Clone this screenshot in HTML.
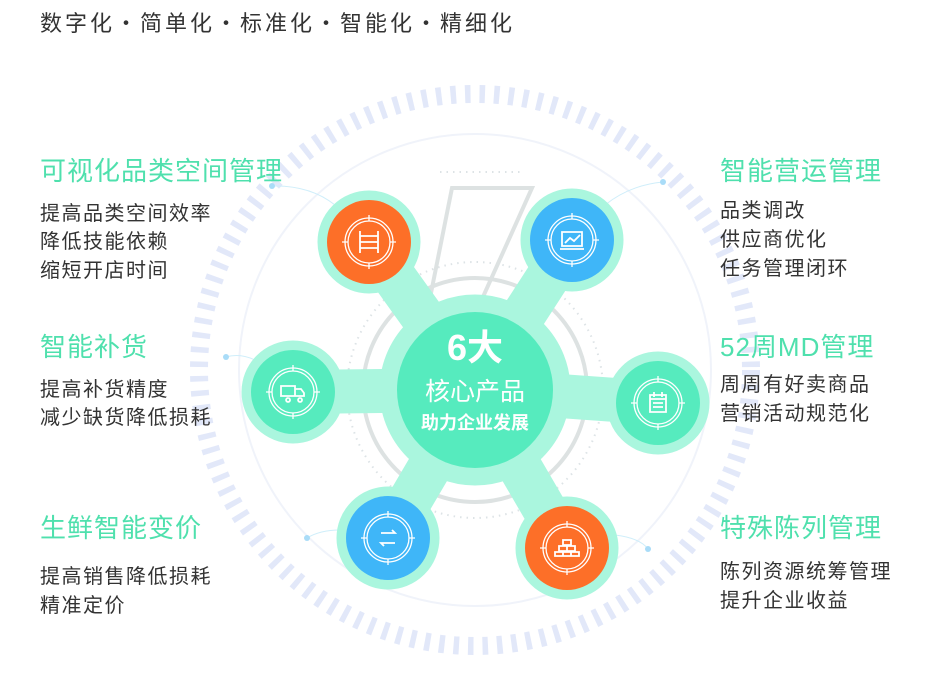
<!DOCTYPE html>
<html><head><meta charset="utf-8"><style>
html,body{margin:0;padding:0;background:#fff;}
svg{display:block;}
text{font-family:"Liberation Sans","Noto Sans CJK SC",sans-serif;}
</style></head><body>
<svg width="928" height="681" viewBox="0 0 928 681" xmlns="http://www.w3.org/2000/svg">
<rect width="928" height="681" fill="#fff"/>
<text x="40" y="31" font-size="22" fill="#333" letter-spacing="3">数字化・简单化・标准化・智能化・精细化</text>

<circle cx="475" cy="370" r="276" fill="none" stroke="#e2e8f9" stroke-width="18" stroke-dasharray="5.5 9"/>
<circle cx="475" cy="370" r="236" fill="none" stroke="#f0f3fa" stroke-width="2"/>
<circle cx="475" cy="390" r="128" fill="none" stroke="#dde3e6" stroke-width="2" stroke-dasharray="1.5 5"/>
<circle cx="475" cy="390" r="112" fill="none" stroke="#dde2e2" stroke-width="4"/>
<path d="M452 188 L532 188 L478 308 L428 308 Z" fill="none" stroke="#dde2e2" stroke-width="4"/>
<path d="M440 172 L520 172" stroke="#dde3e6" stroke-width="2" stroke-dasharray="1.5 5"/>

<g fill="none" stroke="#cfeefa" stroke-width="1">
<path d="M272 186 Q310 185 335 205"/>
<path d="M663 182 Q630 185 605 205"/>
<path d="M226 357 Q240 353 255 360"/>
<path d="M307 538 Q320 530 340 530"/>
<path d="M648 549 Q640 538 615 535"/>
</g>
<g fill="#a9dcf8">
<circle cx="272" cy="186" r="3"/><circle cx="663" cy="182" r="3"/><circle cx="226" cy="357" r="3"/><circle cx="307" cy="538" r="3"/><circle cx="648" cy="549" r="3"/>
</g>

<g fill="#aaf6de" stroke="#aaf6de">
<circle cx="475" cy="390" r="95"/>
<g stroke-width="44" stroke-linecap="round">
<line x1="475" y1="390" x2="369" y2="242"/>
<line x1="475" y1="390" x2="572" y2="240"/>
<line x1="475" y1="390" x2="293" y2="392"/>
<line x1="475" y1="390" x2="658" y2="403"/>
<line x1="475" y1="390" x2="388" y2="538"/>
<line x1="475" y1="390" x2="567" y2="548"/>
</g>
<circle cx="369" cy="242" r="51"/><circle cx="572" cy="240" r="51"/><circle cx="293" cy="392" r="51"/>
<circle cx="658" cy="403" r="51"/><circle cx="388" cy="538" r="51"/><circle cx="567" cy="548" r="51"/>
</g>
<circle cx="475" cy="390" r="78" fill="#56ebbe"/>
<circle cx="369" cy="242" r="42" fill="#fd6f28"/>
<circle cx="572" cy="240" r="42" fill="#3fb6f8"/>
<circle cx="293" cy="392" r="42" fill="#56ebbe"/>
<circle cx="658" cy="403" r="42" fill="#56ebbe"/>
<circle cx="388" cy="538" r="42" fill="#3fb6f8"/>
<circle cx="567" cy="548" r="42" fill="#fd6f28"/>

<g fill="none" stroke="#fff" stroke-width="1.3">
<g><circle cx="369" cy="242" r="24"/><circle cx="369" cy="242" r="21"/><path d="M369 215v6M369 263v6M342 242h6M390 242h6"/></g>
<g><circle cx="572" cy="240" r="24"/><circle cx="572" cy="240" r="21"/><path d="M572 213v6M572 261v6M545 240h6M593 240h6"/></g>
<g><circle cx="293" cy="392" r="24"/><circle cx="293" cy="392" r="21"/><path d="M293 365v6M293 413v6M266 392h6M314 392h6"/></g>
<g><circle cx="658" cy="403" r="24"/><circle cx="658" cy="403" r="21"/><path d="M658 376v6M658 424v6M631 403h6M679 403h6"/></g>
<g><circle cx="388" cy="538" r="24"/><circle cx="388" cy="538" r="21"/><path d="M388 511v6M388 559v6M361 538h6M409 538h6"/></g>
<g><circle cx="567" cy="548" r="24"/><circle cx="567" cy="548" r="21"/><path d="M567 521v6M567 569v6M540 548h6M588 548h6"/></g>
</g>
<g fill="none" stroke="#fff" stroke-width="1.8">
<path d="M360 231v22M378 231v22M360 236h18M360 242h18M360 248h18"/>
<path d="M562 232h20v14h-20zM560 249h24M565 243l5-5 4 3 6-6"/>
<path d="M281 386h14v10h-14zM295 389h6l3 4v3h-9M288 398a2 2 0 1 0 .1 0M300 398a2 2 0 1 0 .1 0"/>
<path d="M650 395h16v17h-16zM650 399h16M653 403h10M653 407h10M654 392v5M662 392v5"/>
<path d="M381 533h14l-3-3M395 543h-14l3 3"/>
<path d="M563 540h8v5h-8zM559 546h8v5h-8zM567 546h8v5h-8zM555 552h8v4h-8zM563 552h8v4h-8zM571 552h8v4h-8z"/>
</g>

<text x="475" y="360" font-size="36" font-weight="bold" fill="#fff" text-anchor="middle">6大</text>
<text x="475" y="400" font-size="25" fill="#fff" text-anchor="middle">核心产品</text>
<text x="475" y="429" font-size="18" font-weight="bold" fill="#fff" text-anchor="middle">助力企业发展</text>

<g font-size="26" fill="#4fe0ad" letter-spacing="1">
<text x="40" y="180">可视化品类空间管理</text>
<text x="40" y="356">智能补货</text>
<text x="40" y="537">生鲜智能变价</text>
<text x="720" y="180">智能营运管理</text>
<text x="720" y="356">52周MD管理</text>
<text x="720" y="537">特殊陈列管理</text>
</g>
<g font-size="20" fill="#333" letter-spacing="1.5">
<text x="40" y="220">提高品类空间效率</text>
<text x="40" y="248">降低技能依赖</text>
<text x="40" y="277">缩短开店时间</text>
<text x="40" y="396">提高补货精度</text>
<text x="40" y="424">减少缺货降低损耗</text>
<text x="40" y="583">提高销售降低损耗</text>
<text x="40" y="612">精准定价</text>
<text x="720" y="217">品类调改</text>
<text x="720" y="246">供应商优化</text>
<text x="720" y="275">任务管理闭环</text>
<text x="720" y="391">周周有好卖商品</text>
<text x="720" y="420">营销活动规范化</text>
<text x="720" y="578">陈列资源统筹管理</text>
<text x="720" y="607">提升企业收益</text>
</g>
</svg>
</body></html>
